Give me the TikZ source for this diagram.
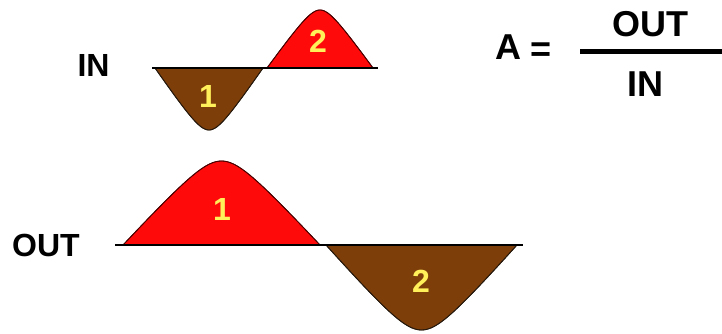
\documentclass[tikz,border=0pt]{standalone}
\usepackage{fontspec}
\setmainfont{Liberation Sans}
\definecolor{lobered}{RGB}{255,10,10}
\definecolor{lobebrown}{RGB}{125,62,10}
\definecolor{digityellow}{RGB}{255,240,90}
\tikzset{
  lbl/.style={font=\bfseries\fontsize{32}{32}\selectfont, anchor=base, inner sep=0pt},
  frm/.style={font=\bfseries\fontsize{36}{36}\selectfont, anchor=base, inner sep=0pt},
  dig/.style={font=\bfseries\fontsize{32}{32}\selectfont, text=digityellow, anchor=base, inner sep=0pt},
  axisline/.style={line width=2pt, black},
  redlobe/.style={fill=lobered, draw=black!70!red, line width=0.8pt},
  brownlobe/.style={fill=lobebrown, draw=black!80!brown, line width=0.8pt},
  declare function={bump(\t)=(1.0308-sqrt((2*\t-1)^2+0.0625))/0.7808;},
}
\begin{document}
\begin{tikzpicture}[x=1pt,y=-1pt]
\useasboundingbox (0,0) rectangle (722,334);
% IN waveform
\fill[brownlobe] plot[domain=0:1,samples=81,smooth] ({155+108*\x},{68+62*bump(\x)}) -- cycle;
\fill[redlobe] plot[domain=0:1,samples=81,smooth] ({267+106*\x},{68-58*bump(\x)}) -- cycle;
\draw[brownlobe,fill=none] plot[domain=0:1,samples=81,smooth] ({155+108*\x},{68+62*bump(\x)});
\draw[redlobe,fill=none] plot[domain=0:1,samples=81,smooth] ({267+106*\x},{68-58*bump(\x)});
\coordinate (ina) at (152,68);
\coordinate (inb) at (378,68);
\draw[axisline] (ina) -- (inb);
\node[lbl] (inlabel) at (93.5,77) {IN};
\node[dig] (in1) at (208,107) {1};
\node[dig] (in2) at (318,53) {2};
% OUT waveform
\fill[redlobe] plot[domain=0:1,samples=81,smooth] ({123+197*\x},{245-84*bump(\x)}) -- cycle;
\fill[brownlobe] plot[domain=0:1,samples=81,smooth] ({326+191*\x},{245+85*bump(\x)}) -- cycle;
\draw[redlobe,fill=none] plot[domain=0:1,samples=81,smooth] ({123+197*\x},{245-84*bump(\x)});
\draw[brownlobe,fill=none] plot[domain=0:1,samples=81,smooth] ({326+191*\x},{245+85*bump(\x)});
\coordinate (outa) at (115,245);
\coordinate (outb) at (523,245);
\draw[axisline] (outa) -- (outb);
\node[lbl] (outlabel) at (46,256) {OUT};
\node[dig] (out1) at (222,220) {1};
\node[dig] (out2) at (421,292) {2};
% formula
\node[frm] (fa) at (508,60) {A};
\node[frm] (feq) at (541,62) {=};
\node[frm] (fnum) at (650,37) {OUT};
\node[frm] (fden) at (645,97) {IN};
\coordinate (fl) at (580,52);
\coordinate (fr) at (722,52);
\draw[line width=5pt] (fl) -- (fr);
\end{tikzpicture}
\end{document}
